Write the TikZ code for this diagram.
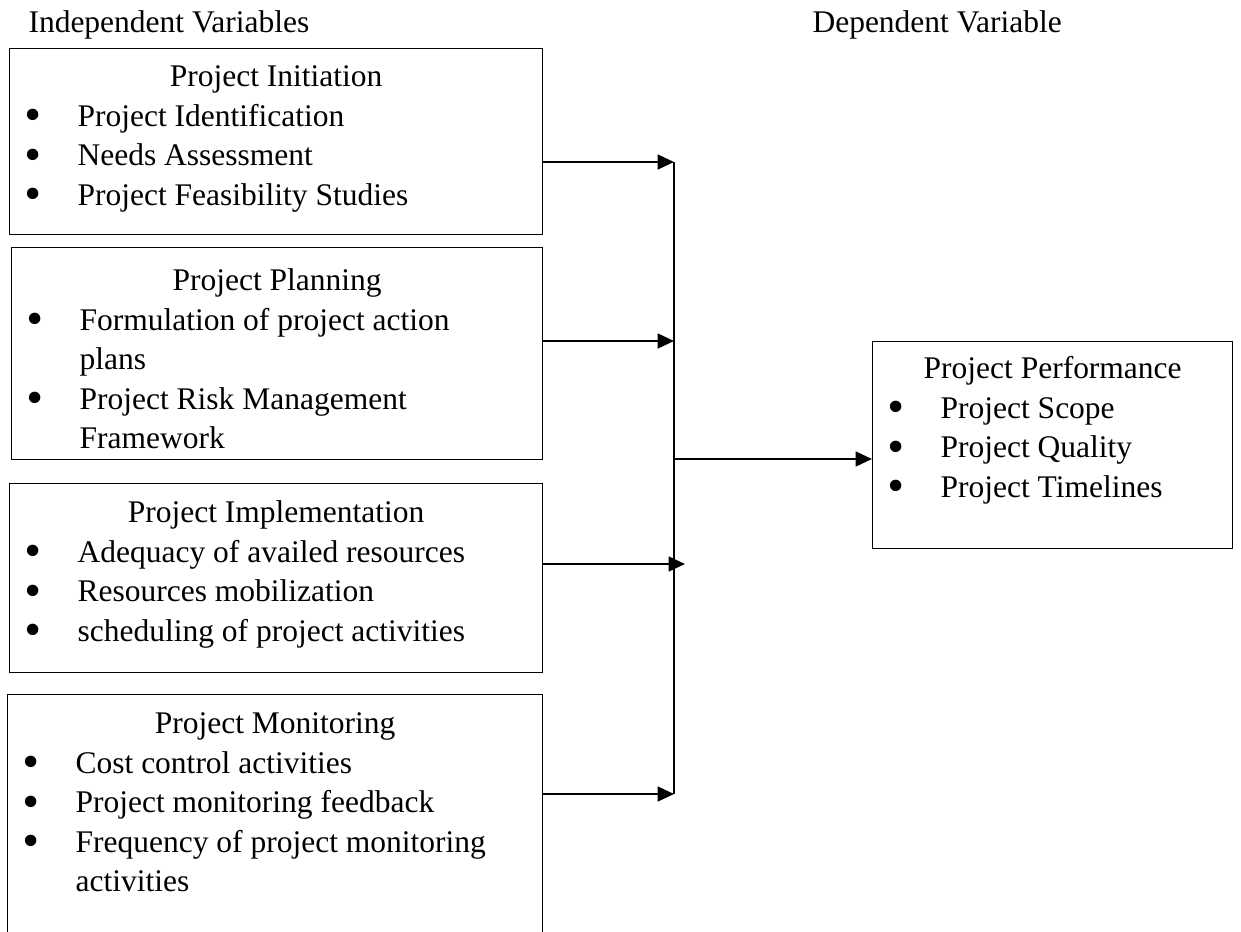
\documentclass[tikz,border=0pt]{standalone}
\usepackage{fontspec}
\setmainfont{Liberation Serif}
\newfontfamily\dotfont{DejaVu Sans}
\usetikzlibrary{arrows.meta,positioning}

\newlength{\pxu}\setlength{\pxu}{0.381pt}
\newcommand{\boxhead}[2]{{\centering\rule{0pt}{#1\pxu}#2\par}}
\newcommand{\bigdot}{\raisebox{-1.4pt}{\dotfont\fontsize{15pt}{15pt}\selectfont •}}
\newcommand{\bitem}[1]{\par\hangindent=68\pxu\hangafter=1\noindent\makebox[68\pxu][l]{\hspace{12\pxu}\bigdot}#1\par}
\newcommand{\varbody}[3]{\parbox[c][#2\pxu][t]{#1\pxu}{\raggedright #3}}

\begin{document}
\begin{tikzpicture}[x=0.381pt,y=-0.381pt,>={Triangle[length=6.2pt,width=5.6pt]},
  every node/.style={font=\fontsize{12pt}{15.05pt}\selectfont},
  varbox/.style={draw,line width=0.5pt,inner sep=0pt,anchor=north west},
  head/.style={inner sep=0pt,anchor=base west},
  link/.style={line width=0.85pt}]
  \clip (0,0) rectangle (1241,932);
  \node[head] (indep) at (28,33) {Independent Variables};
  \node[head] (dep) at (812,33) {Dependent Variable};
  \node[varbox] (init) at (9,48) {\varbody{533}{186}{\boxhead{38}{Project Initiation}
    \bitem{Project Identification}\bitem{Needs Assessment}\bitem{Project Feasibility Studies}}};
  \node[varbox] (plan) at (11,247) {\varbody{531}{212}{\boxhead{43}{Project Planning}
    \bitem{Formulation of project action\newline plans}\bitem{Project Risk Management\newline Framework}}};
  \node[varbox] (impl) at (9,483) {\varbody{533}{189}{\boxhead{39}{Project Implementation}
    \bitem{Adequacy of availed resources}\bitem{Resources mobilization}\bitem{scheduling of project activities}}};
  \node[varbox] (moni) at (7,694) {\varbody{535}{270}{\boxhead{39}{Project Monitoring}
    \bitem{Cost control activities}\bitem{Project monitoring feedback}\bitem{Frequency of project monitoring\newline activities}}};
  \node[varbox] (perf) at (872,341) {\varbody{360}{207}{\boxhead{37}{Project Performance}
    \bitem{Project Scope}\bitem{Project Quality}\bitem{Project Timelines}}};
  \coordinate (j1) at (674,162);
  \coordinate (j2) at (674,341);
  \coordinate (j3) at (685,564);
  \coordinate (j4) at (674,794);
  \coordinate (jout) at (674,459);
  \draw[link] (j1) -- (j4);
  \draw[link,->] (init.east |- j1) -- (j1);
  \draw[link,->] (plan.east |- j2) -- (j2);
  \draw[link,->] (impl.east |- j3) -- (j3);
  \draw[link,->] (moni.east |- j4) -- (j4);
  \draw[link,->] (jout) -- (perf.west |- jout);
\end{tikzpicture}
\end{document}
